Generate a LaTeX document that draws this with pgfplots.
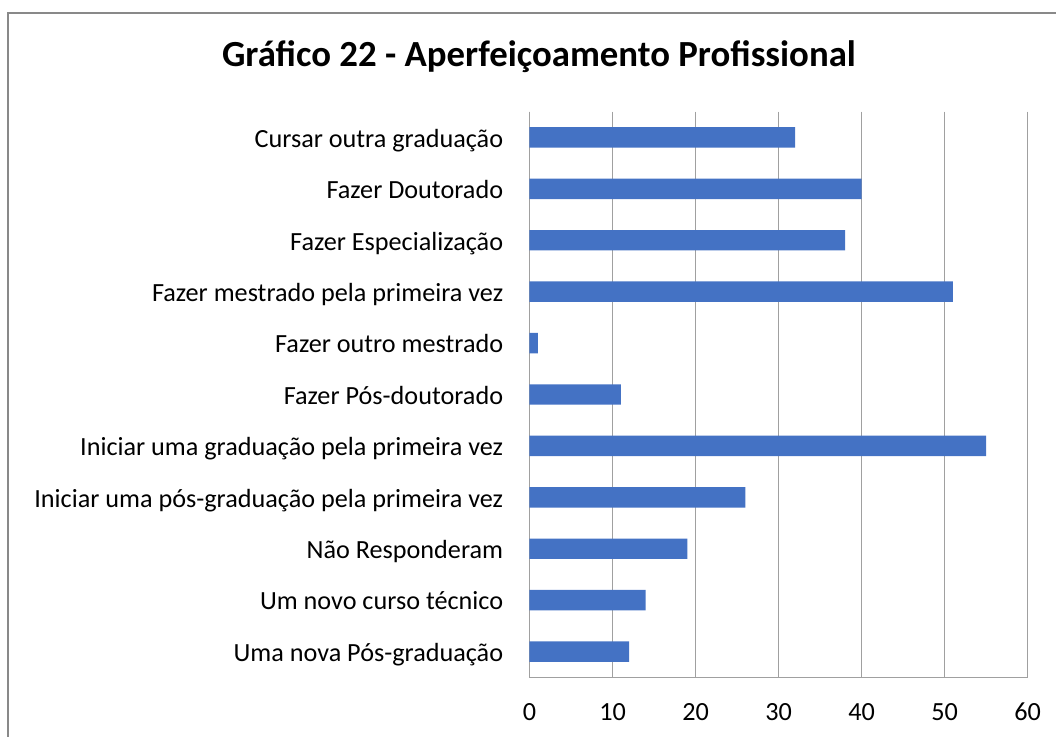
\documentclass[border=0pt]{standalone}
\usepackage{pgfplots}
\pgfplotsset{compat=1.18}
\usepackage{fontspec}
\setmainfont{Carlito}
\definecolor{barblue}{HTML}{4472C4}
\definecolor{gridgray}{RGB}{160,160,160}
\definecolor{framegray}{RGB}{137,137,137}
\begin{document}
\begin{tikzpicture}
\path[use as bounding box] (0pt,0pt) rectangle (528pt,-368pt);
\draw[framegray, line width=1.1pt] (4pt,-400pt) -- (4pt,-6.5pt) -- (560pt,-6.5pt);
\node[font=\fontsize{18.4}{22}\selectfont\bfseries, anchor=base] at (269.5pt,-33.35pt) {Gráfico 22 - Aperfeiçoamento Profissional};
\begin{axis}[
  at={(264.75pt,-338.65pt)}, anchor=south west,
  scale only axis, width=249.1pt, height=282.8pt,
  xbar, bar width=10.2pt, bar shift=0pt,
  xmin=0, xmax=60, xtick={0,10,...,60},
  ymin=-0.5, ymax=10.5, ytick={0,...,10}, y dir=reverse,
  yticklabels={Cursar outra graduação, Fazer Doutorado, Fazer Especialização, Fazer mestrado pela primeira vez, Fazer outro mestrado, Fazer Pós-doutorado, Iniciar uma graduação pela primeira vez, Iniciar uma pós-graduação pela primeira vez, Não Responderam, Um novo curso técnico, Uma nova Pós-graduação},
  xmajorgrids, grid style={gridgray, line width=0.6pt},
  axis line style={gridgray, line width=0.6pt},
  axis x line*=bottom, axis y line*=left,
  x axis line style={-}, y axis line style={-},
  major tick length=0pt, tick style={draw=none},
  /pgf/number format/assume math mode=true,
  ticklabel style={font=\fontsize{13.1}{15}\selectfont, inner sep=0pt},
  yticklabel style={anchor=base east, xshift=-13pt, yshift=-4.9pt},
  xticklabel style={anchor=center, yshift=-17.2pt},
]
\addplot[fill=barblue, draw=none] coordinates {
(32,0) (40,1) (38,2) (51,3) (1,4) (11,5) (55,6) (26,7) (19,8) (14,9) (12,10)
};
\end{axis}
\end{tikzpicture}
\end{document}
